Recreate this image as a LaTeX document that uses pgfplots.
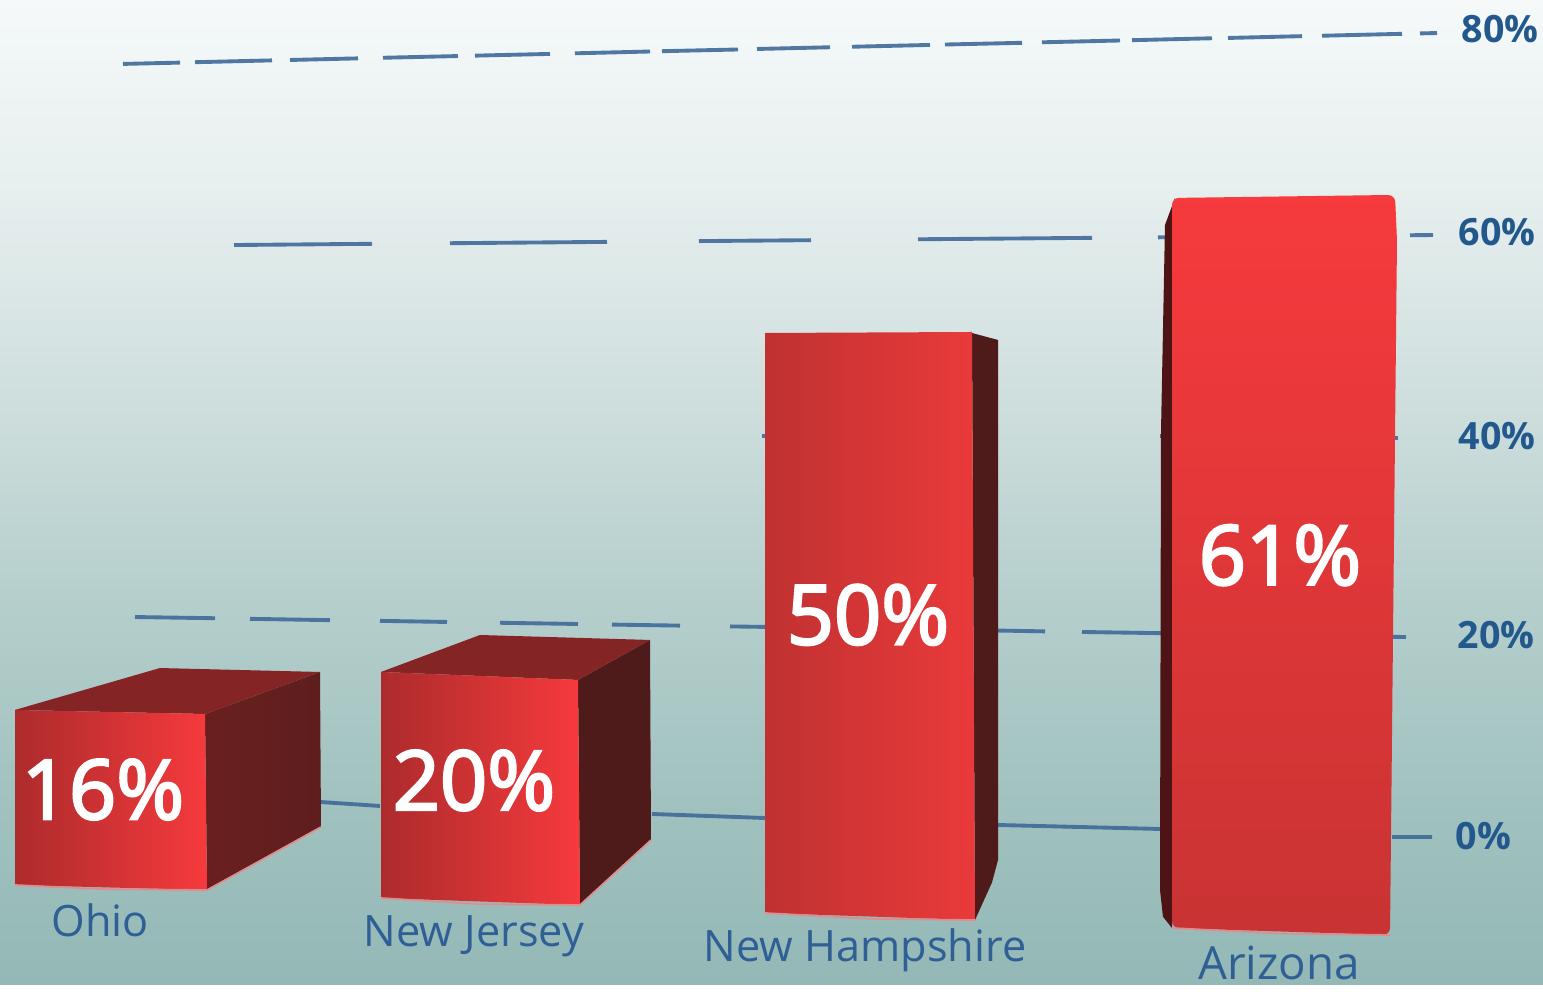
\documentclass[border=0pt]{standalone}
\usepackage{pgfplots}
\pgfplotsset{compat=1.18}
\usepackage{fontspec}
\setmainfont{Open Sans}
\newfontfamily\valfont[FakeBold=3]{Open Sans}
\definecolor{gridc}{HTML}{3F6A99}
\definecolor{labc}{HTML}{2F5F95}
\definecolor{tickc}{HTML}{23588C}
\definecolor{topdark}{HTML}{842424}
\definecolor{sidedark}{HTML}{5E1E1E}
\definecolor{sidedarkl}{HTML}{6A1F1F}
\definecolor{sidedarkb}{HTML}{4E1A1A}
\definecolor{redhi}{HTML}{F63A3D}
\definecolor{redlo}{HTML}{AD2B2C}
\definecolor{redmid}{HTML}{C93333}
\definecolor{nhlo}{HTML}{C03131}
\definecolor{nhhi}{HTML}{EA3A3B}
\definecolor{edgepink}{HTML}{E08C8E}
\definecolor{b0}{HTML}{93B8B6}
\definecolor{b1}{HTML}{A2C3C0}
\definecolor{b2}{HTML}{B6CFCD}
\definecolor{b3}{HTML}{CFDFDE}
\definecolor{b4}{HTML}{E6EEEE}
\definecolor{b5}{HTML}{F5F9F9}
\pgfdeclareverticalshading{bgshade}{100bp}{
  color(0bp)=(b0);
  color(25bp)=(b0);
  color(35bp)=(b1);
  color(45bp)=(b2);
  color(55bp)=(b3);
  color(65bp)=(b4);
  color(75bp)=(b5);
  color(100bp)=(b5)}
\newcommand{\vallab}[3]{\node[text=white,font=\fontsize{23.5}{24}\selectfont\valfont] at (axis cs:#1,#2) {#3};}
\newcommand{\catlab}[4][12.3]{\node[text=labc,font=\fontsize{#1}{13}\selectfont] at (axis cs:#2,#3) {#4};}
\newcommand{\ticklab}[3]{\node[text=tickc,anchor=west,inner sep=0pt,font=\fontsize{10.7}{11}\selectfont\bfseries] at (axis cs:#1,#2) {#3};}
\begin{document}
\begin{tikzpicture}
\begin{axis}[
  scale only axis, width=15.43cm, height=9.85cm,
  xmin=0, xmax=1543, ymin=-14.75, ymax=82.77,
  hide axis, unbounded coords=jump, clip=false,
  every axis plot/.append style={no markers},
]
% background
\addplot[draw=none, shading=bgshade] coordinates {(0,-14.75)(1543,-14.75)(1543,82.77)(0,82.77)} -- cycle;
% gridlines
\pgfplotsset{gl/.style={color=gridc, line width=1.1pt, opacity=0.9}}
\addplot[gl] coordinates {(123,76.44)(180,76.57)(190,nan)(195,76.61)(272,76.79)(280,nan)(290,76.83)(358,76.99)(370,nan)(383,77.05)(458,77.22)(465,nan)(475,77.26)(550,77.43)(560,nan)(575,77.49)(650,77.67)(655,nan)(662,77.70)(738,77.87)(745,nan)(757,77.92)(830,78.09)(840,nan)(852,78.14)(930,78.32)(935,nan)(945,78.36)(1022,78.53)(1030,nan)(1042,78.58)(1120,78.76)(1125,nan)(1132,78.79)(1212,78.98)(1220,nan)(1228,79.01)(1302,79.19)(1310,nan)(1322,79.23)(1402,79.42)(1410,nan)(1420,79.46)(1437,79.50)};
\addplot[gl] coordinates {(234,58.51)(372,58.63)(400,nan)(450,58.69)(607,58.82)(650,nan)(699,58.90)(811,58.99)(850,nan)(918,59.08)(1092,59.22)(1120,nan)(1158,59.27)(1166,59.28)(1300,nan)(1410,59.48)(1433,59.50)};
\addplot[gl] coordinates {(762,39.6)(768,39.6)(900,nan)(1160,39.6)(1166,39.6)(1300,nan)(1393,39.4)(1398,39.4)};
\addplot[gl] coordinates {(135,21.68)(215,21.56)(230,nan)(250,21.50)(330,21.37)(350,nan)(380,21.30)(447,21.19)(470,nan)(500,21.11)(578,20.99)(590,nan)(612,20.93)(680,20.83)(700,nan)(730,20.75)(765,20.70)(880,nan)(998,20.34)(1045,20.26)(1060,nan)(1082,20.20)(1162,20.08)(1300,nan)(1392,19.72)(1406,19.70)};
\addplot[gl] coordinates {(320,3.37)(380,2.97)(500,nan)(652,2.18)(765,1.78)(880,nan)(998,1.09)(1162,0.69)(1300,nan)(1392,-0.1)(1432,-0.1)};
% Ohio
\addplot[draw=none, left color=sidedarkl, right color=sidedark] coordinates {(205,12.08)(320,16.24)(321,0.89)(207,-5.35)} -- cycle;
\addplot[draw=none, fill=topdark] coordinates {(15,12.48)(160,16.63)(320,16.24)(205,12.08)} -- cycle;
\addplot[draw=none, left color=redlo, right color=redhi] coordinates {(15,12.48)(205,12.08)(207,-5.35)(15,-4.85)} -- cycle;
\addplot[color=edgepink, line width=0.5pt] coordinates {(15,-4.85)(100,-5.25)(207,-5.35)(321,0.89)};
% New Jersey
\addplot[draw=none, fill=sidedarkb] coordinates {(578,15.45)(650,19.41)(651,-0.40)(580,-6.83)} -- cycle;
\addplot[draw=none, fill=topdark] coordinates {(381,16.24)(480,19.90)(650,19.41)(578,15.45)} -- cycle;
\addplot[draw=none, left color=redlo, right color=redhi] coordinates {(381,16.24)(578,15.45)(580,-6.83)(381,-6.14)} -- cycle;
\addplot[color=edgepink, line width=0.5pt] coordinates {(381,-6.14)(480,-6.75)(580,-6.83)(651,-0.40)};
% New Hampshire
\addplot[draw=none, fill=sidedarkb] coordinates {(972,49.80)(998,49.11)(998,-2.38)(992,-4.6)(975,-8.32)} -- cycle;
\addplot[draw=none, left color=nhlo, right color=nhhi] coordinates {(765,49.80)(972,49.90)(975,-8.32)(765,-7.62)} -- cycle;
\addplot[color=edgepink, line width=0.5pt] coordinates {(765,-7.62)(870,-8.2)(975,-8.32)};
% Arizona
\addplot[draw=none, fill=black!55!redlo] coordinates {(1175,63.17)(1165,60.5)(1161,40)(1160,-5.35)(1163,-8.0)(1172,-9.11)} -- cycle;
\addplot[draw=none, top color=redhi, bottom color=redmid, rounded corners=2pt] coordinates {(1172,63.17)(1395,63.47)(1397,59.01)(1390,-9.80)(1172,-9.11)} -- cycle;
\addplot[color=edgepink, line width=0.5pt] coordinates {(1172,-9.11)(1280,-9.65)(1390,-9.80)};
% value labels
\vallab{103}{4.6}{16\%}
\vallab{474}{5.5}{20\%}
\vallab{868}{21.9}{50\%}
\vallab{1280}{27.8}{61\%}
% categories
\catlab{100}{-8.3}{Ohio}
\catlab{474}{-9.9}{New Jersey}
\catlab{865}{-11.3}{New Hampshire}
\catlab[13]{1279}{-12.6}{Arizona}
% right ticks
\ticklab{1461}{79.9}{80\%}
\ticklab{1458}{59.8}{60\%}
\ticklab{1458}{39.6}{40\%}
\ticklab{1457}{19.9}{20\%}
\ticklab{1455}{0}{0\%}
\end{axis}
\end{tikzpicture}
\end{document}
